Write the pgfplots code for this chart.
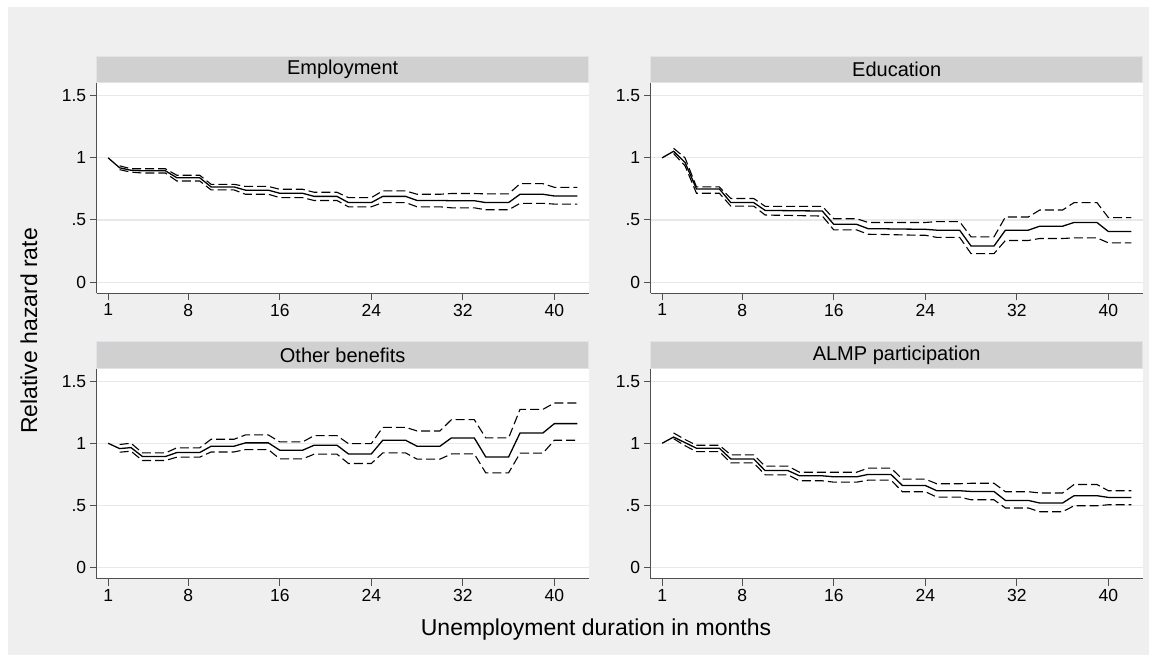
\documentclass[border=0pt]{standalone}
\usepackage{fontspec}
\setmainfont{Liberation Sans}
\usepackage{pgfplots}
\usepackage{pgfplotstable}
\pgfplotsset{compat=1.18}
\definecolor{bggray}{RGB}{239,239,239}
\definecolor{stripgray}{RGB}{208,208,208}
\definecolor{stripedge}{RGB}{222,228,234}
\definecolor{gridgray}{RGB}{232,232,232}
\definecolor{axgray}{RGB}{80,80,80}

\pgfplotstableread{
x m lo hi
1 1.000 nan nan
2 0.920 0.905 0.936
3 0.900 0.885 0.912
4 0.896 0.878 0.912
5 0.896 0.878 0.912
6 0.896 0.878 0.912
7 0.840 0.814 0.860
8 0.840 0.814 0.860
9 0.840 0.814 0.860
10 0.766 0.742 0.787
11 0.766 0.742 0.787
12 0.766 0.742 0.787
13 0.740 0.707 0.770
14 0.740 0.707 0.770
15 0.740 0.707 0.770
16 0.715 0.680 0.747
17 0.715 0.680 0.747
18 0.715 0.680 0.747
19 0.690 0.657 0.723
20 0.690 0.657 0.723
21 0.690 0.657 0.723
22 0.640 0.606 0.680
23 0.640 0.606 0.680
24 0.640 0.606 0.680
25 0.690 0.640 0.734
26 0.690 0.640 0.734
27 0.690 0.640 0.734
28 0.657 0.606 0.707
29 0.657 0.606 0.707
30 0.657 0.606 0.707
31 0.655 0.598 0.713
32 0.655 0.598 0.713
33 0.655 0.598 0.713
34 0.640 0.582 0.710
35 0.640 0.582 0.710
36 0.640 0.582 0.710
37 0.707 0.634 0.792
38 0.707 0.634 0.792
39 0.707 0.634 0.792
40 0.693 0.628 0.763
41 0.693 0.628 0.763
42 0.693 0.628 0.763
}\emp

\pgfplotstableread{
x m lo hi
1 1.000 nan nan
2 1.053 1.035 1.077
3 0.963 0.936 1.000
4 0.750 0.715 0.766
5 0.750 0.715 0.766
6 0.750 0.715 0.766
7 0.640 0.612 0.673
8 0.640 0.612 0.673
9 0.640 0.612 0.673
10 0.577 0.540 0.610
11 0.576 0.538 0.610
12 0.575 0.537 0.610
13 0.574 0.535 0.610
14 0.573 0.533 0.610
15 0.572 0.532 0.610
16 0.465 0.420 0.510
17 0.465 0.420 0.510
18 0.465 0.420 0.510
19 0.430 0.385 0.480
20 0.430 0.384 0.480
21 0.428 0.382 0.480
22 0.427 0.380 0.480
23 0.426 0.378 0.480
24 0.425 0.377 0.480
25 0.418 0.360 0.487
26 0.418 0.360 0.487
27 0.418 0.360 0.487
28 0.290 0.229 0.364
29 0.290 0.229 0.364
30 0.290 0.229 0.364
31 0.418 0.335 0.524
32 0.418 0.335 0.524
33 0.418 0.335 0.524
34 0.450 0.351 0.580
35 0.450 0.351 0.580
36 0.450 0.351 0.580
37 0.480 0.356 0.640
38 0.480 0.356 0.640
39 0.480 0.356 0.640
40 0.407 0.316 0.519
41 0.407 0.316 0.519
42 0.407 0.316 0.519
}\edu

\pgfplotstableread{
x m lo hi
1 1.000 nan nan
2 0.957 0.928 0.990
3 0.965 0.936 1.000
4 0.893 0.861 0.922
5 0.893 0.861 0.922
6 0.893 0.861 0.922
7 0.925 0.888 0.963
8 0.925 0.888 0.963
9 0.925 0.888 0.963
10 0.976 0.930 1.032
11 0.976 0.930 1.032
12 0.976 0.930 1.032
13 1.003 0.949 1.067
14 1.003 0.949 1.067
15 1.003 0.949 1.067
16 0.944 0.874 1.011
17 0.944 0.874 1.011
18 0.944 0.874 1.011
19 0.984 0.912 1.061
20 0.984 0.912 1.061
21 0.984 0.912 1.061
22 0.914 0.837 0.997
23 0.914 0.837 0.997
24 0.914 0.837 0.997
25 1.024 0.922 1.128
26 1.024 0.922 1.128
27 1.024 0.922 1.128
28 0.976 0.872 1.099
29 0.976 0.872 1.099
30 0.976 0.872 1.099
31 1.043 0.914 1.190
32 1.043 0.914 1.190
33 1.043 0.914 1.190
34 0.890 0.762 1.043
35 0.890 0.762 1.043
36 0.890 0.762 1.043
37 1.083 0.920 1.273
38 1.083 0.920 1.273
39 1.083 0.920 1.273
40 1.158 1.024 1.324
41 1.158 1.024 1.324
42 1.158 1.024 1.324
}\oth

\pgfplotstableread{
x m lo hi
1 1.000 nan nan
2 1.050 1.037 1.083
3 1.005 0.980 1.030
4 0.960 0.933 0.984
5 0.960 0.933 0.984
6 0.960 0.933 0.984
7 0.874 0.842 0.906
8 0.874 0.842 0.906
9 0.874 0.842 0.906
10 0.780 0.746 0.816
11 0.780 0.746 0.816
12 0.780 0.746 0.816
13 0.738 0.698 0.767
14 0.738 0.698 0.767
15 0.738 0.698 0.767
16 0.730 0.687 0.767
17 0.730 0.687 0.767
18 0.730 0.687 0.767
19 0.749 0.703 0.800
20 0.749 0.703 0.800
21 0.749 0.703 0.800
22 0.660 0.610 0.711
23 0.660 0.610 0.711
24 0.660 0.610 0.711
25 0.618 0.567 0.674
26 0.618 0.567 0.674
27 0.618 0.567 0.674
28 0.612 0.545 0.678
29 0.612 0.545 0.678
30 0.612 0.545 0.678
31 0.540 0.479 0.610
32 0.540 0.479 0.610
33 0.540 0.479 0.610
34 0.519 0.449 0.600
35 0.519 0.449 0.600
36 0.519 0.449 0.600
37 0.578 0.497 0.668
38 0.578 0.497 0.668
39 0.578 0.497 0.668
40 0.564 0.505 0.618
41 0.564 0.505 0.618
42 0.564 0.505 0.618
}\almp

\pgfplotsset{
  panel/.style={
    scale only axis, width=492pt, height=210pt,
    xmin=0, xmax=43, ymin=-0.09, ymax=1.6,
    axis x line*=bottom, axis y line*=left,
    axis line style={-, axgray, line width=1.2pt},
    xtick={1,8,16,24,32,40}, xticklabels={1,8,16,24,32,40},
    ytick={0,0.5,1,1.5}, yticklabels={0,.5,1,1.5},
    tick align=outside, major tick length=7pt,
    tick style={axgray, line width=1pt},
    ymajorgrids, grid style={gridgray, line width=1.2pt},
    ticklabel style={font=\fontsize{17.5}{20}\selectfont},
    axis background/.style={fill=white},
    unbounded coords=discard,
    every axis title/.style={at={(0.5,1)}, anchor=south, fill=stripgray,
      draw=stripedge, line width=0.8pt,
      minimum width=492pt, minimum height=26.6pt, inner sep=0pt,
      font=\fontsize{20}{24}\selectfont},
    anchor=south west,
  },
  mainline/.style={black, line width=1.3pt},
  ciline/.style={black, line width=1.1pt, dash pattern=on 9pt off 4pt},
}

\begin{document}
\begin{tikzpicture}
\useasboundingbox (0,0) rectangle (1157pt,664pt);
\fill[white] (0,0) rectangle (1157pt,664pt);
\fill[bggray] (8pt,9pt) rectangle (1149pt,657pt);

\begin{axis}[panel, at={(96.7pt,370.7pt)}, title={Employment}]
\addplot[ciline] table[x=x,y=hi] {\emp};
\addplot[ciline] table[x=x,y=lo] {\emp};
\addplot[mainline] table[x=x,y=m] {\emp};
\end{axis}

\begin{axis}[panel, at={(650.7pt,370.7pt)}, title={Education}]
\addplot[ciline] table[x=x,y=hi] {\edu};
\addplot[ciline] table[x=x,y=lo] {\edu};
\addplot[mainline] table[x=x,y=m] {\edu};
\end{axis}

\begin{axis}[panel, at={(96.7pt,85.3pt)}, title={Other benefits}]
\addplot[ciline] table[x=x,y=hi] {\oth};
\addplot[ciline] table[x=x,y=lo] {\oth};
\addplot[mainline] table[x=x,y=m] {\oth};
\end{axis}

\begin{axis}[panel, at={(650.7pt,85.3pt)}, title={ALMP participation}]
\addplot[ciline] table[x=x,y=hi] {\almp};
\addplot[ciline] table[x=x,y=lo] {\almp};
\addplot[mainline] table[x=x,y=m] {\almp};
\end{axis}

\node[font=\fontsize{23}{27}\selectfont] at (596pt,34pt) {Unemployment duration in months};
\node[font=\fontsize{23}{27}\selectfont, rotate=90] at (29pt,333pt) {Relative hazard rate};
\end{tikzpicture}
\end{document}
